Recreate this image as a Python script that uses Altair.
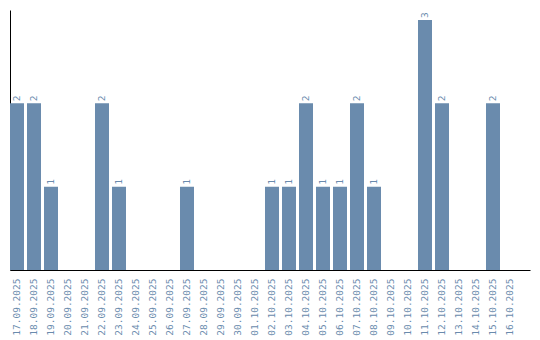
import altair as alt
import pandas as pd

dates = ["17.09.2025", "18.09.2025", "19.09.2025", "20.09.2025", "21.09.2025",
         "22.09.2025", "23.09.2025", "24.09.2025", "25.09.2025", "26.09.2025",
         "27.09.2025", "28.09.2025", "29.09.2025", "30.09.2025", "01.10.2025",
         "02.10.2025", "03.10.2025", "04.10.2025", "05.10.2025", "06.10.2025",
         "07.10.2025", "08.10.2025", "09.10.2025", "10.10.2025", "11.10.2025",
         "12.10.2025", "13.10.2025", "14.10.2025", "15.10.2025", "16.10.2025"]
counts = [2, 2, 1, 0, 0, 2, 1, 0, 0, 0, 1, 0, 0, 0, 0,
          1, 1, 2, 1, 1, 2, 1, 0, 0, 3, 2, 0, 0, 2, 0]

df = pd.DataFrame({"date": dates, "count": counts})
color = "#6a8bad"

x = alt.X("date:N", sort=dates, title=None,
          scale=alt.Scale(paddingInner=0.1765, paddingOuter=0.3824, align=0),
          axis=alt.Axis(labelAngle=270, labelFont="DejaVu Sans Mono", labelFontSize=9.5,
                        labelColor=color, ticks=False, domainColor="black",
                        domainWidth=1, labelPadding=8))
y = alt.Y("count:Q", title=None,
          scale=alt.Scale(domain=[0, 3.12], nice=False, zero=True),
          axis=alt.Axis(labels=False, ticks=False, grid=False, domainColor="black",
                        domainWidth=1))

bars = alt.Chart(df).mark_bar(color=color).encode(x=x, y=y)
text = alt.Chart(df).transform_filter("datum.count > 0").mark_text(
    angle=270, align="left", baseline="middle", dx=2,
    font="DejaVu Sans Mono", fontSize=9.5, color=color
).encode(x=x, y=y, text="count:Q")

chart = (bars + text).properties(
    width=520, height=260,
    padding={"left": 10, "top": 10, "right": 10, "bottom": 70},
    autosize=alt.AutoSizeParams(type="none")
).configure_view(stroke=None)

chart.save("out.html", embed_options={"renderer": "svg", "actions": False})
